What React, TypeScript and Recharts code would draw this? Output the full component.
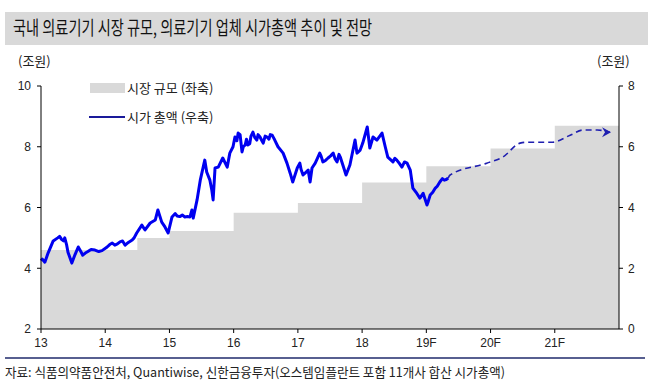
import React from "react";
import {
  Area,
  ComposedChart,
  Line,
  XAxis,
  YAxis,
} from "recharts";

// 시장 규모 (좌축, 조원) - step per year
const marketYears = [13, 14.5, 15, 16, 17, 18, 19, 20, 21, 22];
const marketSize = [4.6, 5.0, 5.23, 5.83, 6.15, 6.82, 7.36, 7.94, 8.69, 8.69];

// 시가 총액 (우축, 조원) - actual
const capYears = [
  13.0, 13.02, 13.06, 13.11, 13.19, 13.26, 13.29, 13.32, 13.35, 13.37,
  13.4, 13.42, 13.48, 13.53, 13.58, 13.62, 13.65, 13.69, 13.73, 13.78,
  13.84, 13.9, 13.95, 14.03, 14.07, 14.11, 14.15, 14.19, 14.23, 14.27,
  14.31, 14.36, 14.42, 14.45, 14.49, 14.57, 14.62, 14.7, 14.78, 14.82,
  14.88, 14.93, 14.98, 15.04, 15.09, 15.12, 15.16, 15.2, 15.24, 15.28,
  15.32, 15.35, 15.37, 15.43, 15.48, 15.55, 15.58, 15.63, 15.66, 15.68,
  15.71, 15.76, 15.83, 15.9, 15.94, 15.99, 16.02, 16.05, 16.07, 16.1,
  16.13, 16.15, 16.18, 16.2, 16.22, 16.25, 16.27, 16.3, 16.33, 16.36,
  16.38, 16.41, 16.44, 16.46, 16.49, 16.52, 16.55, 16.57, 16.6, 16.62,
  16.64, 16.69, 16.77, 16.83, 16.88, 16.92, 16.99, 17.03, 17.05, 17.08,
  17.12, 17.16, 17.19, 17.22, 17.27, 17.3, 17.34, 17.36, 17.39, 17.43,
  17.47, 17.51, 17.55, 17.58, 17.61, 17.64, 17.66, 17.7, 17.75, 17.81,
  17.89, 17.92, 17.97, 18.01, 18.08, 18.12, 18.17, 18.23, 18.31, 18.36,
  18.4, 18.48, 18.51, 18.54, 18.58, 18.62, 18.66, 18.7, 18.75, 18.79,
  18.85, 18.9, 18.95, 19.01, 19.03, 19.06, 19.1, 19.14, 19.17, 19.21,
  19.25, 19.28, 19.31, 19.34,
];
const capValues = [
  2.25, 2.3, 2.2, 2.5, 2.9, 3.0, 3.05, 2.95, 2.9, 3.0,
  2.76, 2.53, 2.17, 2.45, 2.7, 2.55, 2.43, 2.5, 2.55, 2.62,
  2.6, 2.55, 2.58, 2.7, 2.78, 2.83, 2.76, 2.8, 2.87, 2.9,
  2.76, 2.85, 2.93, 3.0, 3.16, 3.42, 3.26, 3.49, 3.59, 3.92,
  3.52, 3.36, 3.16, 3.69, 3.8, 3.72, 3.7, 3.75, 3.69, 3.7,
  3.69, 3.92, 3.65, 4.25, 4.9, 5.56, 5.17, 4.9, 4.57, 4.25,
  5.3, 5.33, 5.63, 5.33, 5.79, 6.0, 6.32, 6.2, 6.45, 6.4,
  5.83, 6.0, 6.06, 6.25, 6.06, 6.1, 6.35, 6.48, 6.3, 6.22,
  6.4, 6.32, 6.2, 6.12, 6.35, 6.32, 6.25, 6.4, 6.38, 6.3,
  6.22, 6.0, 5.79, 5.46, 5.13, 4.84, 5.3, 5.46, 5.25, 5.07,
  5.15, 5.23, 4.84, 5.3, 5.46, 5.6, 5.79, 5.7, 5.5, 5.55,
  5.63, 5.7, 5.79, 5.6, 5.5, 5.75, 5.66, 5.4, 5.07, 5.4,
  6.22, 5.79, 5.89, 6.12, 6.65, 5.96, 6.32, 6.22, 6.45, 6.0,
  5.66, 5.5, 5.62, 5.56, 5.45, 5.33, 5.5, 5.46, 5.23, 4.64,
  4.47, 4.31, 4.47, 4.08, 4.2, 4.41, 4.5, 4.64, 4.7, 4.84,
  4.95, 4.9, 4.92, 4.97,
];

// 시가 총액 전망 (dashed)
const forecastYears = [19.34, 19.37, 19.94, 20.19, 20.46, 20.57, 20.97, 21.24, 21.44, 21.66, 21.86];
const forecastValues = [4.97, 5.07, 5.46, 5.66, 6.12, 6.15, 6.15, 6.38, 6.55, 6.55, 6.48];

const xTicks = [13, 14, 15, 16, 17, 18, 19, 20, 21];
const xTickLabels = ["13", "14", "15", "16", "17", "18", "19F", "20F", "21F"];
const leftTicks = [2, 4, 6, 8, 10];
const rightTicks = [0, 2, 4, 6, 8];

const marketData = marketYears.map((x, i) => ({ x, v: marketSize[i] }));
const capData = capYears.map((x, i) => ({ x, v: capValues[i] }));
const forecastData = forecastYears.map((x, i) => ({ x, v: forecastValues[i] }));

const KR = '"Noto Sans CJK KR", sans-serif';
const NUM = '"Liberation Sans Narrow", "Liberation Sans", Arial, sans-serif';
const tickStyle = { fill: "#222", fontSize: 12, fontFamily: NUM };

function ArrowDot(props: any) {
  const { cx, cy, index } = props;
  if (index !== forecastData.length - 1) return <g key={index} />;
  return (
    <path
      key={index}
      d={`M${cx - 8},${cy - 5} L${cx + 1},${cy} L${cx - 8},${cy + 5} L${cx - 5},${cy} Z`}
      fill="#1f1fb0"
    />
  );
}

export default function App() {
  return (
    <div style={{ position: "absolute", left: 0, top: 0, width: 653, height: 392, background: "#fff" }}>
      <div style={{ position: "absolute", left: 5, top: 12, width: 643, height: 33, background: "#d9d9d9" }} />
      <div style={{ position: "absolute", left: 0, top: 0 }}>
        <ComposedChart
          width={653}
          height={392}
          margin={{ top: 86, right: 10, bottom: 43, left: 11 }}
        >
          <XAxis
            dataKey="x"
            type="number"
            domain={[13, 22]}
            ticks={xTicks}
            tickFormatter={(v: number) => xTickLabels[xTicks.indexOf(v)]}
            tick={tickStyle}
            tickSize={4}
            tickMargin={5}
            height={20}
            stroke="#000"
            allowDuplicatedCategory={false}
          />
          <YAxis
            yAxisId="left"
            domain={[2, 10]}
            ticks={leftTicks}
            tick={tickStyle}
            tickSize={4}
            tickMargin={6}
            width={30}
            stroke="#000"
          />
          <YAxis
            yAxisId="right"
            orientation="right"
            domain={[0, 8]}
            ticks={rightTicks}
            tick={tickStyle}
            tickSize={4}
            tickMargin={5}
            width={24}
            stroke="#000"
          />
          <Area
            yAxisId="left"
            data={marketData}
            dataKey="v"
            type="stepAfter"
            fill="#d9d9d9"
            fillOpacity={1}
            stroke="none"
            isAnimationActive={false}
          />
          <Line
            yAxisId="right"
            data={capData}
            dataKey="v"
            type="linear"
            stroke="#0000f0"
            strokeWidth={3}
            strokeLinejoin="round"
            dot={false}
            isAnimationActive={false}
          />
          <Line
            yAxisId="right"
            data={forecastData}
            dataKey="v"
            type="monotone"
            stroke="#1f1fb0"
            strokeWidth={1.6}
            strokeDasharray="6 4"
            dot={ArrowDot}
            isAnimationActive={false}
          />
        </ComposedChart>
      </div>
      <svg style={{ position: "absolute", left: 0, top: 0, pointerEvents: "none" }} width={653} height={392}>
        <text
          x={13}
          y={35}
          fontFamily={KR}
          fontSize={19}
          fill="#111"
          textLength={359}
          lengthAdjust="spacingAndGlyphs"
        >
          국내 의료기기 시장 규모, 의료기기 업체 시가총액 추이 및 전망
        </text>
        <text x={18} y={66} fontFamily={KR} fontSize={13} fill="#222">(조원)</text>
        <text x={597} y={66} fontFamily={KR} fontSize={13} fill="#222">(조원)</text>
        <rect x={90} y={83} width={35} height={10} fill="#d9d9d9" />
        <text x={127} y={93} fontFamily={KR} fontSize={13} fill="#222">시장 규모 (좌축)</text>
        <line x1={89} x2={125} y1={117} y2={117} stroke="#1a1a9a" strokeWidth={2} />
        <text x={127} y={122} fontFamily={KR} fontSize={13} fill="#222">시가 총액 (우축)</text>
        <line x1={5} x2={645} y1={358} y2={358} stroke="#1f2a6b" strokeWidth={1.5} />
        <text
          x={5}
          y={377}
          fontFamily={KR}
          fontSize={13}
          fill="#222"
          textLength={500}
          lengthAdjust="spacingAndGlyphs"
        >
          자료: 식품의약품안전처, Quantiwise, 신한금융투자(오스템임플란트 포함 11개사 합산 시가총액)
        </text>
      </svg>
    </div>
  );
}
